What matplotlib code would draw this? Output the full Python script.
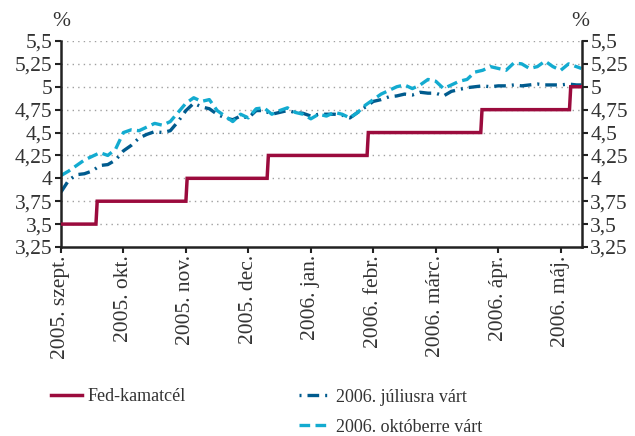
import numpy as np
import matplotlib
matplotlib.use("Agg")
import matplotlib.pyplot as plt
from matplotlib.lines import Line2D

# x positions are in months since 2005-09-01
month_labels = ["2005. szept.", "2005. okt.", "2005. nov.", "2005. dec.", "2006. jan.",
                "2006. febr.", "2006. márc.", "2006. ápr.", "2006. máj."]

fed_x = [0.0, 0.56, 0.58, 2.0, 2.02, 3.3, 3.32, 4.9, 4.92, 6.72, 6.74, 8.14, 8.16, 8.34]
fed_y = [3.5, 3.5, 3.75, 3.75, 4.0, 4.0, 4.25, 4.25, 4.5, 4.5, 4.75, 4.75, 5.0, 5.0]

exp_x = [0.0, 0.125, 0.25, 0.375, 0.5, 0.625, 0.75, 0.875, 1.0, 1.125, 1.25, 1.375,
         1.5, 1.625, 1.75, 1.875, 2.0, 2.125, 2.25, 2.375, 2.5, 2.625, 2.75, 2.875,
         3.0, 3.125, 3.25, 3.375, 3.5, 3.625, 3.75, 3.875, 4.0, 4.125, 4.25, 4.375,
         4.5, 4.625, 4.75, 4.875, 5.0, 5.125, 5.25, 5.375, 5.5, 5.625, 5.75, 5.875,
         6.0, 6.125, 6.25, 6.375, 6.5, 6.625, 6.75, 6.875, 7.0, 7.125, 7.25, 7.375,
         7.5, 7.625, 7.75, 7.875, 8.0, 8.125, 8.25, 8.33]

jul = [3.85, 3.98, 4.04, 4.05, 4.08, 4.14, 4.15, 4.20, 4.30, 4.36, 4.44, 4.48,
       4.51, 4.50, 4.52, 4.62, 4.74, 4.82, 4.78, 4.76, 4.70, 4.66, 4.64, 4.68,
       4.66, 4.74, 4.74, 4.70, 4.72, 4.74, 4.72, 4.71, 4.68, 4.70, 4.70, 4.70,
       4.69, 4.66, 4.72, 4.78, 4.84, 4.86, 4.89, 4.90, 4.92, 4.91, 4.94, 4.93,
       4.93, 4.90, 4.95, 4.97, 4.99, 5.00, 5.01, 5.00, 5.01, 5.01, 5.02, 5.01,
       5.02, 5.03, 5.02, 5.02, 5.02, 5.03, 5.02, 5.02]

okt = [4.03, 4.08, 4.14, 4.20, 4.24, 4.28, 4.25, 4.32, 4.50, 4.53, 4.52, 4.56,
       4.60, 4.58, 4.62, 4.72, 4.82, 4.88, 4.84, 4.86, 4.74, 4.68, 4.62, 4.70,
       4.66, 4.76, 4.77, 4.70, 4.74, 4.77, 4.72, 4.70, 4.65, 4.70, 4.68, 4.72,
       4.70, 4.66, 4.72, 4.80, 4.86, 4.92, 4.96, 5.00, 5.02, 4.98, 5.02, 5.08,
       5.06, 4.98, 5.02, 5.06, 5.08, 5.16, 5.18, 5.22, 5.20, 5.18, 5.26, 5.25,
       5.20, 5.22, 5.28, 5.22, 5.18, 5.25, 5.22, 5.20]

y_ticks = [3.25, 3.5, 3.75, 4.0, 4.25, 4.5, 4.75, 5.0, 5.25, 5.5]
y_tick_labels = ["3,25", "3,5", "3,75", "4", "4,25", "4,5", "4,75", "5", "5,25", "5,5"]

RED = "#9b0b3d"
DARK = "#005b8e"
CYAN = "#13abd0"
TXT = "#333333"

plt.rcParams["font.family"] = ["Liberation Serif", "DejaVu Serif"]
plt.rcParams["font.size"] = 15.5

fig = plt.figure(figsize=(6.35, 4.36), dpi=100)
ax = fig.add_axes([0.096, 0.4335, 0.8205, 0.4725])

for v in y_ticks[1:]:
    ax.axhline(v, color="#a0a0a0", lw=1.0, ls=(0, (1, 3)), zorder=0)

ax.plot(fed_x, fed_y, color=RED, lw=2.5, solid_joinstyle="miter", zorder=3)
ax.plot(exp_x, jul, color=DARK, lw=2.4, dashes=(3.5, 1.8, 0.6, 1.8), zorder=2)
ax.plot(exp_x, okt, color=CYAN, lw=2.4, dashes=(3.2, 1.6), zorder=2)

ax.set_xlim(0, 8.34)
ax.set_ylim(3.25, 5.5)
ax.set_xticks(range(len(month_labels)))
ax.set_xticklabels(month_labels, rotation=90, va="top", ha="center")
ax.set_yticks(y_ticks)
ax.set_yticklabels(y_tick_labels)
ax.tick_params(axis="both", direction="out", width=1.5, length=4, color="#222222",
               pad=2, labelcolor=TXT)
ax.tick_params(axis="y", which="both", left=True, right=True, labelleft=True, labelright=True)

for side in ["left", "right", "bottom"]:
    ax.spines[side].set_linewidth(1.8)
    ax.spines[side].set_color("#222222")
ax.spines["top"].set_visible(False)

fig.text(0.082, 0.95, "%", ha="left", va="center", color=TXT)
fig.text(0.914, 0.95, "%", ha="center", va="center", color=TXT)

h_fed = Line2D([], [], color=RED, lw=2.5)
h_jul = Line2D([], [], color=DARK, lw=2.4, dashes=(0.6, 1.8, 3.5, 1.8, 0.6, 1.8))
h_okt = Line2D([], [], color=CYAN, lw=2.4, dashes=(3.2, 1.6))

fig.legend([h_fed], ["Fed-kamatcél"], loc="center left", bbox_to_anchor=(0.066, 0.09),
           frameon=False, handlelength=1.7, handletextpad=0.35, borderpad=0,
           fontsize=13, labelcolor=TXT)
fig.legend([h_jul, h_okt], ["2006. júliusra várt", "2006. októberre várt"],
           loc="upper left", bbox_to_anchor=(0.457, 0.129), frameon=False,
           handlelength=1.7, handletextpad=0.35, borderpad=0, labelspacing=0.72,
           fontsize=13, labelcolor=TXT)

fig.savefig("out.png", dpi=100)
